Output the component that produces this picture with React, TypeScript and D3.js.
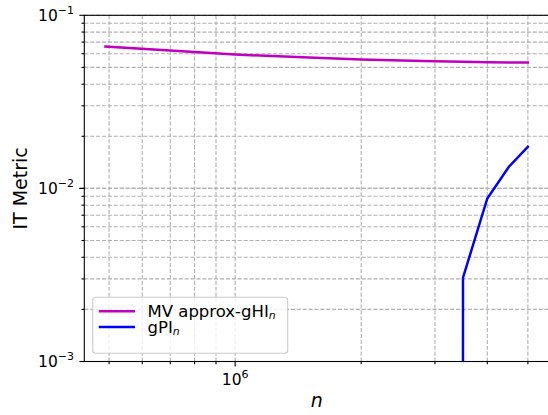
import { useRef, useEffect } from 'react';
import * as d3 from 'd3';

// sample sizes n and the two metric curves
const nValues = [490000, 1000000, 1500000, 2000000, 2500000, 3000000, 3500000, 4000000, 4500000, 5000000];
const mvApprox = [0.066, 0.0593, 0.057, 0.0555, 0.0548, 0.0543, 0.0539, 0.0535, 0.0534, 0.0533];
const gpi = [0, 0, 0, 0, 0, 0, 0.00305, 0.00875, 0.0133, 0.0174];

const yMajorTicks = [1e-3, 1e-2, 1e-1];
const yTickLabels = ['\u22123', '\u22122', '\u22121'];
const xMajorTicks = [1e6];
const xTickLabels = ['6'];

const seriesNames = ['MV approx-gHI', 'gPI'];
const seriesColors = ['#bf00bf', '#0000ff'];

const W = 548;
const H = 415;

const App = () => {
  const ref = useRef(null);

  useEffect(() => {
    const svg = d3.select(ref.current);
    svg.selectAll('*').remove();

    const margin = { top: 15.3, left: 84.3, right: 549, bottom: 361.5 };
    const font = 'DejaVu Sans, sans-serif';

    // matplotlib style 5% margins in log space
    const lx0 = Math.log10(d3.min(nValues));
    const lx1 = Math.log10(d3.max(nValues));
    const pad = (lx1 - lx0) * 0.05;
    const x = d3.scaleLog()
      .domain([Math.pow(10, lx0 - pad), Math.pow(10, lx1 + pad)])
      .range([margin.left, margin.right]);
    const y = d3.scaleLog()
      .domain([1e-3, 1e-1])
      .range([margin.bottom, margin.top]);

    const [xd0, xd1] = x.domain();
    const xMinor = [];
    for (let e = 5; e <= 7; e++) {
      for (let k = 1; k < 10; k++) {
        const v = k * Math.pow(10, e);
        if (v >= xd0 && v <= xd1) xMinor.push(v);
      }
    }
    const yMinor = [];
    for (let e = -3; e <= -2; e++) {
      for (let k = 1; k <= 10; k++) yMinor.push(k * Math.pow(10, e));
    }

    svg.append('defs').append('clipPath').attr('id', 'plotclip')
      .append('rect')
      .attr('x', margin.left).attr('y', margin.top)
      .attr('width', margin.right - margin.left)
      .attr('height', margin.bottom - margin.top);

    // grid
    const grid = svg.append('g')
      .attr('stroke', '#b0b0b0')
      .attr('stroke-width', 1.1)
      .attr('stroke-dasharray', '4.1,1.8');
    grid.selectAll('.gx').data(xMinor).enter().append('line')
      .attr('x1', d => x(d)).attr('x2', d => x(d))
      .attr('y1', margin.top).attr('y2', margin.bottom);
    grid.selectAll('.gy').data(yMinor).enter().append('line')
      .attr('x1', margin.left).attr('x2', margin.right)
      .attr('y1', d => y(d)).attr('y2', d => y(d));

    // series
    const clipY = v => (v > 0 ? v : 1e-300);
    const line = d3.line()
      .x((d, i) => x(nValues[i]))
      .y(d => y(clipY(d)));
    const plot = svg.append('g').attr('clip-path', 'url(#plotclip)');
    [mvApprox, gpi].forEach((s, i) => {
      plot.append('path')
        .attr('d', line(s))
        .attr('fill', 'none')
        .attr('stroke', seriesColors[i])
        .attr('stroke-width', 2.5)
        .attr('stroke-linecap', 'square');
    });

    // ticks
    const ticks = svg.append('g').attr('stroke', '#000').attr('stroke-width', 1.1);
    ticks.selectAll('.tx').data(xMinor).enter().append('line')
      .attr('x1', d => x(d)).attr('x2', d => x(d))
      .attr('y1', margin.bottom).attr('y2', d => margin.bottom + (xMajorTicks.includes(d) ? 4.9 : 2.8));
    ticks.selectAll('.ty').data(yMinor).enter().append('line')
      .attr('y1', d => y(d)).attr('y2', d => y(d))
      .attr('x1', margin.left).attr('x2', d => margin.left - (yMajorTicks.some(t => Math.abs(t - d) < d * 1e-6) ? 4.9 : 2.8));

    // spines
    const spines = svg.append('g').attr('stroke', '#000').attr('stroke-width', 1.1).attr('fill', 'none');
    spines.append('rect')
      .attr('x', margin.left).attr('y', margin.top)
      .attr('width', margin.right - margin.left)
      .attr('height', margin.bottom - margin.top);

    // tick labels
    yMajorTicks.forEach((t, i) => {
      const tx = svg.append('text')
        .attr('x', 74)
        .attr('y', y(t) + 5.5)
        .attr('text-anchor', 'end')
        .attr('font-family', font)
        .attr('font-size', 15.5)
        .attr('fill', '#000');
      tx.append('tspan').text('10');
      tx.append('tspan').attr('dy', -7).attr('font-size', 11).text(yTickLabels[i]);
    });
    xMajorTicks.forEach((t, i) => {
      const tx = svg.append('text')
        .attr('x', x(t))
        .attr('y', 384.5)
        .attr('text-anchor', 'middle')
        .attr('font-family', font)
        .attr('font-size', 15.5)
        .attr('fill', '#000');
      tx.append('tspan').text('10');
      tx.append('tspan').attr('dy', -7).attr('font-size', 11).text(xTickLabels[i]);
    });

    // axis labels
    svg.append('text')
      .attr('x', (margin.left + margin.right) / 2)
      .attr('y', 406.5)
      .attr('text-anchor', 'middle')
      .attr('font-family', font)
      .attr('font-style', 'italic')
      .attr('font-size', 19)
      .text('n');
    svg.append('text')
      .attr('transform', `translate(26.7, ${(margin.top + margin.bottom) / 2}) rotate(-90)`)
      .attr('text-anchor', 'middle')
      .attr('font-family', font)
      .attr('font-size', 19)
      .text('IT Metric');

    // legend
    const lg = svg.append('g');
    lg.append('rect')
      .attr('x', 92.7).attr('y', 297.3)
      .attr('width', 195).attr('height', 56)
      .attr('rx', 3)
      .attr('fill', '#fff').attr('fill-opacity', 0.8)
      .attr('stroke', '#cccccc').attr('stroke-width', 1.1);
    seriesNames.forEach((name, i) => {
      const cy = 311.3 + i * 15.8;
      lg.append('line')
        .attr('x1', 98.7).attr('x2', 135)
        .attr('y1', cy).attr('y2', cy)
        .attr('stroke', seriesColors[i])
        .attr('stroke-width', 2.5);
      const t = lg.append('text')
        .attr('x', 147.5)
        .attr('y', cy + 6)
        .attr('font-family', font)
        .attr('font-size', 16.5)
        .attr('fill', '#000');
      t.append('tspan').text(name);
      t.append('tspan')
        .attr('dy', 2)
        .attr('font-size', 11)
        .attr('font-style', 'italic')
        .text('n');
    });
  }, []);

  return (
    <svg ref={ref} width={W} height={H} style={{ position: 'absolute', left: 0, top: 0, background: '#fff' }}></svg>
  );
};

export default App;
